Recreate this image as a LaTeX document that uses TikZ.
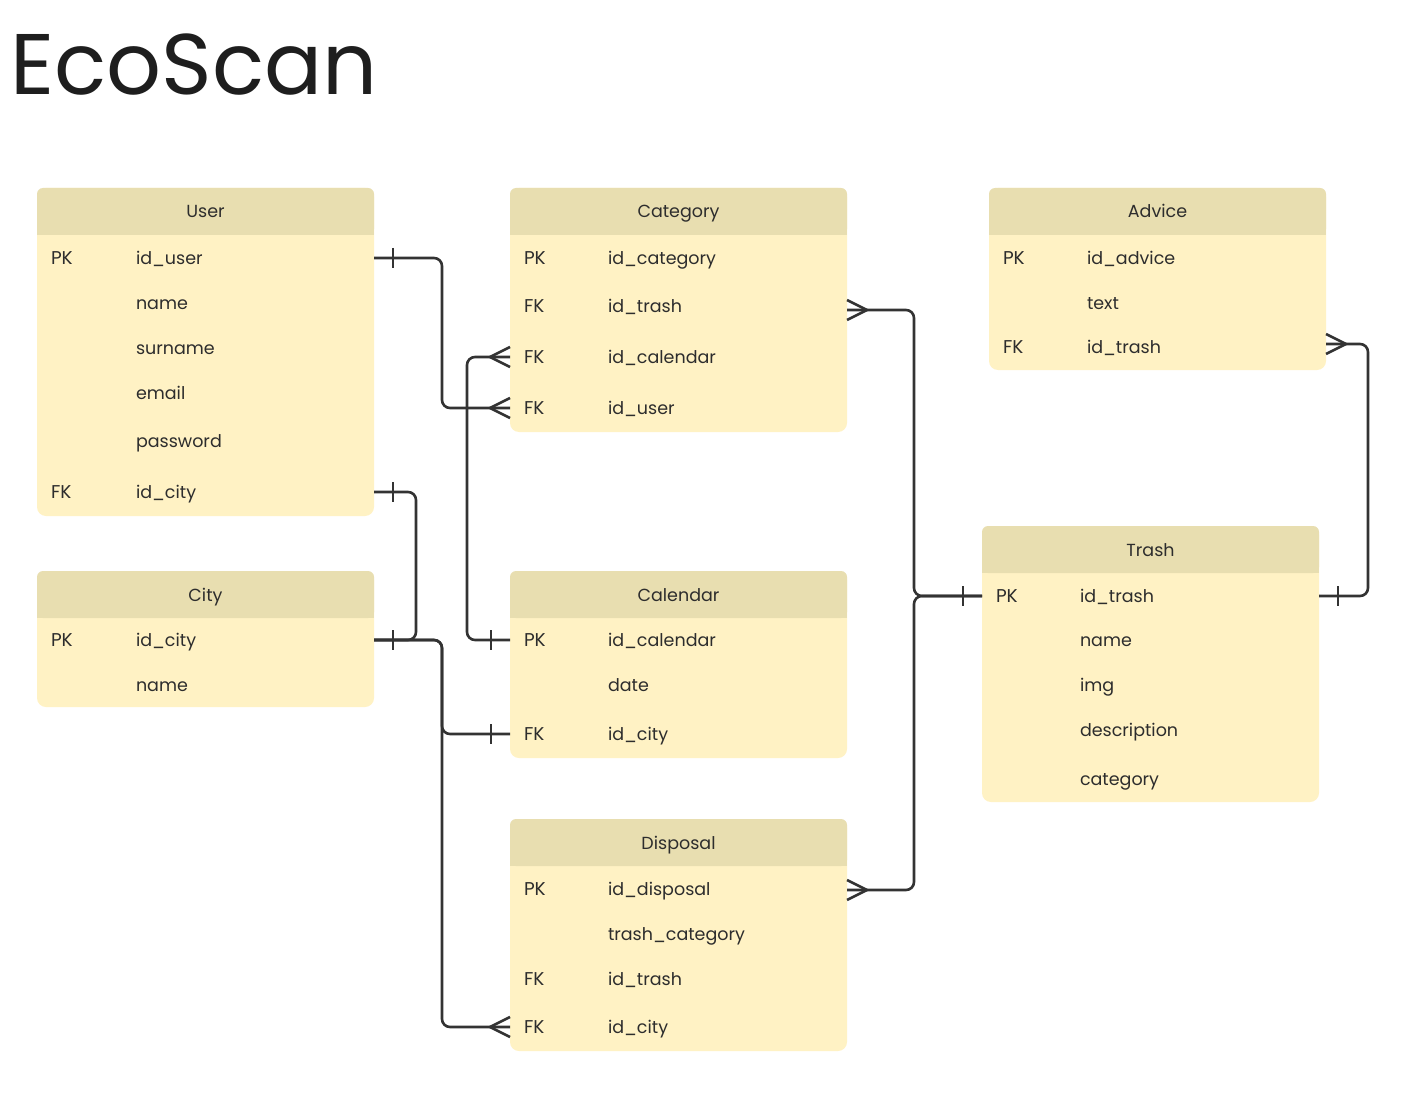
\documentclass[tikz,border=0pt]{standalone}
\usepackage{fontspec}
\setmainfont{Poppins}
\usetikzlibrary{calc}
\definecolor{hdr}{RGB}{232,222,176}
\definecolor{bodyc}{RGB}{255,242,196}
\definecolor{ink}{RGB}{51,51,51}
\definecolor{txt}{RGB}{45,45,45}
\definecolor{ttl}{RGB}{30,30,30}
\tikzset{
  bodybox/.style={rectangle, fill=bodyc, rounded corners=9pt, inner sep=0pt, outer sep=0pt, anchor=north west, minimum width=337pt},
  rowt/.style={anchor=west, inner sep=0pt, outer sep=0pt, font=\fontsize{17.5}{20}\selectfont, text=txt, text height=16pt, text depth=3pt},
  keyt/.style={rowt, font=\fontsize{18.5}{20}\selectfont},
  titlet/.style={inner sep=0pt, outer sep=0pt, font=\fontsize{17.5}{20}\selectfont, text=txt, text height=16pt, text depth=3pt},
  conn/.style={draw=ink, line width=2.6pt, rounded corners=8pt},
  tip/.style={draw=ink, line width=2.6pt, rounded corners=0pt},
}
\newcommand\entity[5]{% name, x, y, height, title
  \node[bodybox, minimum height=#4pt] (#1) at (#2,#3) {};
  \fill[hdr, rounded corners=6pt] (#1.north west) rectangle ($(#1.north east)+(0,47)$);
  \fill[hdr] ($(#1.north west)+(0,30)$) rectangle ($(#1.north east)+(0,47)$);
  \node[titlet] (#1-t) at ($(#1.north)+(0,23.5)$) {#5};
}
\newcommand\crow[2]{\draw[tip] ($(#1)+(0,-10)$) -- ($(#1)+(#2,0)$) -- ($(#1)+(0,10)$);}
\newcommand\onebar[2]{\draw[tip] ($(#1)+(#2,-10)$) -- ($(#1)+(#2,10)$);}
\begin{document}
\begin{tikzpicture}[x=1pt,y=-1pt]
\useasboundingbox (0,0) rectangle (1421,1099);
\fill[white] (0,0) rectangle (1421,1099);

\node[anchor=base west, inner sep=0pt, font=\fontsize{86}{96}\selectfont, text=ttl] (title) at (10,95) {EcoScan};

% User
\entity{user}{37}{188}{328}{User}
\node[keyt] (user-k1) at (51,258) {PK};
\node[rowt] (user-iduser) at (136,258) {id\_user};
\node[rowt] (user-name) at (136,303) {name};
\node[rowt] (user-surname) at (136,348) {surname};
\node[rowt] (user-email) at (136,393) {email};
\node[rowt] (user-password) at (136,441) {password};
\node[keyt] (user-k2) at (51,492) {FK};
\node[rowt] (user-idcity) at (136,492) {id\_city};

% City
\entity{city}{37}{571}{136}{City}
\node[keyt] (city-k1) at (51,640) {PK};
\node[rowt] (city-idcity) at (136,640) {id\_city};
\node[rowt] (city-name) at (136,685) {name};

% Category
\entity{catg}{510}{188}{244}{Category}
\node[keyt] (catg-k1) at (524,258) {PK};
\node[rowt] (catg-idcategory) at (608,258) {id\_category};
\node[keyt] (catg-k2) at (524,306) {FK};
\node[rowt] (catg-idtrash) at (608,306) {id\_trash};
\node[keyt] (catg-k3) at (524,357) {FK};
\node[rowt] (catg-idcalendar) at (608,357) {id\_calendar};
\node[keyt] (catg-k4) at (524,408) {FK};
\node[rowt] (catg-iduser) at (608,408) {id\_user};

% Calendar
\entity{cal}{510}{571}{187}{Calendar}
\node[keyt] (cal-k1) at (524,640) {PK};
\node[rowt] (cal-idcalendar) at (608,640) {id\_calendar};
\node[rowt] (cal-date) at (608,685) {date};
\node[keyt] (cal-k2) at (524,734) {FK};
\node[rowt] (cal-idcity) at (608,734) {id\_city};

% Disposal
\entity{disp}{510}{819}{232}{Disposal}
\node[keyt] (disp-k1) at (524,889) {PK};
\node[rowt] (disp-iddisposal) at (608,889) {id\_disposal};
\node[rowt] (disp-trashcat) at (608,934) {trash\_category};
\node[keyt] (disp-k2) at (524,979) {FK};
\node[rowt] (disp-idtrash) at (608,979) {id\_trash};
\node[keyt] (disp-k3) at (524,1027) {FK};
\node[rowt] (disp-idcity) at (608,1027) {id\_city};

% Advice
\entity{adv}{989}{188}{182}{Advice}
\node[keyt] (adv-k1) at (1003,258) {PK};
\node[rowt] (adv-idadvice) at (1087,258) {id\_advice};
\node[rowt] (adv-text) at (1087,303) {text};
\node[keyt] (adv-k2) at (1003,347) {FK};
\node[rowt] (adv-idtrash) at (1087,347) {id\_trash};

% Trash
\entity{trash}{982}{526}{276}{Trash}
\node[keyt] (trash-k1) at (996,596) {PK};
\node[rowt] (trash-idtrash) at (1080,596) {id\_trash};
\node[rowt] (trash-name) at (1080,640) {name};
\node[rowt] (trash-img) at (1080,685) {img};
\node[rowt] (trash-desc) at (1080,730) {description};
\node[rowt] (trash-category) at (1080,779) {category};

% connector end points
\coordinate (uA) at (user.east |- user-iduser);
\coordinate (uB) at (user.east |- user-idcity);
\coordinate (cA) at (city.east |- city-idcity);
\coordinate (gT) at (catg.east |- 0,310);
\coordinate (gC) at (catg.west |- catg-idcalendar);
\coordinate (gU) at (catg.west |- catg-iduser);
\coordinate (kC) at (cal.west |- cal-idcalendar);
\coordinate (kY) at (cal.west |- cal-idcity);
\coordinate (dT) at (disp.east |- 0,890);
\coordinate (dY) at (disp.west |- disp-idcity);
\coordinate (aT) at (adv.east |- 0,344);
\coordinate (tL) at (trash.west |- trash-idtrash);
\coordinate (tR) at (trash.east |- trash-idtrash);

% User.id_user -> Category.id_user
\draw[conn] (uA) -- (uA -| 442,0) -- (gU -| 442,0) -- (gU);
\onebar{uA}{19} \crow{gU}{-20}
% Calendar.id_calendar -> Category.id_calendar
\draw[conn] (kC) -- (kC -| 467,0) -- (gC -| 467,0) -- (gC);
\onebar{kC}{-19} \crow{gC}{-20}
% City.id_city <-> User.id_city
\draw[conn] (cA) -- (cA -| 416,0) -- (uB -| 416,0) -- (uB);
\onebar{uB}{19} \onebar{cA}{19}
% City.id_city -> Calendar.id_city
\draw[conn] (cA) -- (cA -| 442,0) -- (kY -| 442,0) -- (kY);
\onebar{kY}{-19}
% City.id_city -> Disposal.id_city
\draw[conn] (cA) -- (cA -| 442,0) -- (dY -| 442,0) -- (dY);
\crow{dY}{-20}
% Trash.id_trash -> Category.id_trash
\draw[conn] (tL) -- (tL -| 914,0) -- (gT -| 914,0) -- (gT);
\crow{gT}{20} \onebar{tL}{-19}
% Trash.id_trash -> Disposal
\draw[conn] (tL) -- (tL -| 914,0) -- (dT -| 914,0) -- (dT);
\crow{dT}{20}
% Trash.id_trash -> Advice.id_trash
\draw[conn] (tR) -- (tR -| 1368,0) -- (aT -| 1368,0) -- (aT);
\onebar{tR}{19} \crow{aT}{20}
\end{tikzpicture}
\end{document}
